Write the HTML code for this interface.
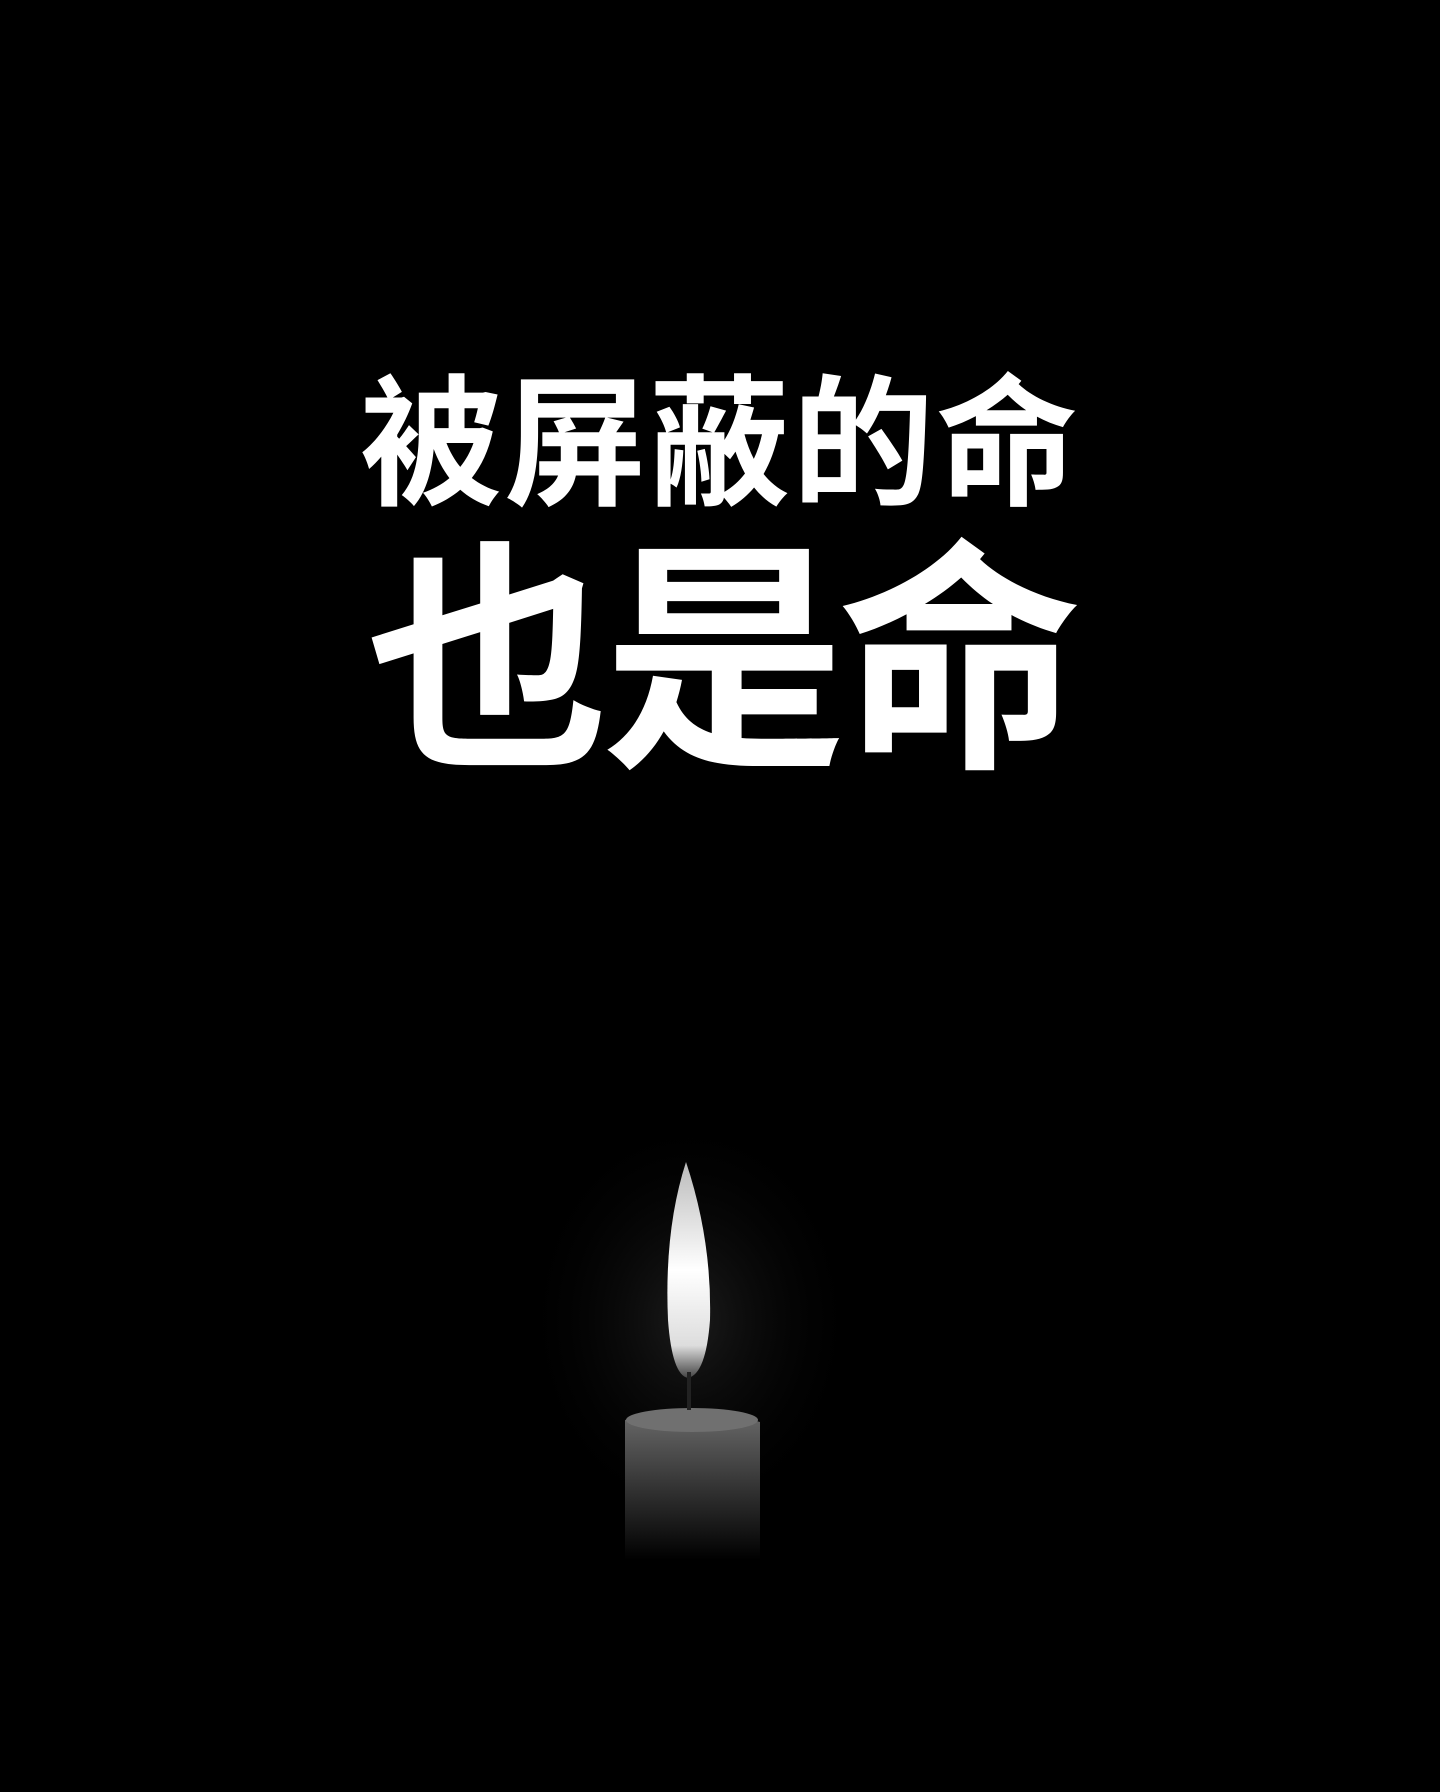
<!DOCTYPE html>
<html><head><meta charset="utf-8">
<style>
html,body{margin:0;padding:0;background:#000;}
#page{position:relative;width:1440px;height:1792px;background:#000;overflow:hidden;font-family:"Liberation Sans","Noto Sans CJK SC",sans-serif;color:#fff;}
.t{position:absolute;left:0;width:1440px;text-align:center;font-weight:700;white-space:nowrap;}
#l1{top:364px;font-size:142px;line-height:164px;letter-spacing:2px;}
#l2{top:536px;font-size:244px;line-height:256px;letter-spacing:-8px;}
svg{position:absolute;left:0;top:0;}
</style></head>
<body>
<div id="page">
<div class="t" id="l1">被屏蔽的命</div>
<div class="t" id="l2">也是命</div>
<svg width="1440" height="1792">
<defs>
<radialGradient id="glow" cx="0.5" cy="0.5" r="0.5">
<stop offset="0" stop-color="#1c1c1c"/><stop offset="1" stop-color="#000" stop-opacity="0"/>
</radialGradient>
<linearGradient id="body" x1="0" y1="0" x2="0" y2="1">
<stop offset="0" stop-color="#6a6a6a"/><stop offset="0.6" stop-color="#2a2a2a"/><stop offset="1" stop-color="#000"/>
</linearGradient>
<linearGradient id="flame" x1="0" y1="0" x2="0" y2="1">
<stop offset="0" stop-color="#bbb"/><stop offset="0.5" stop-color="#fff"/><stop offset="0.85" stop-color="#ddd"/><stop offset="1" stop-color="#444"/>
</linearGradient>
</defs>
<ellipse cx="690" cy="1320" rx="170" ry="210" fill="url(#glow)"/>
<path d="M625 1420 Q690 1402 760 1422 L760 1560 L625 1560 Z" fill="url(#body)"/>
<ellipse cx="692" cy="1420" rx="66" ry="12" fill="#707070"/>
<path d="M686 1162 Q664 1230 668 1320 Q672 1375 688 1378 Q706 1374 710 1320 Q712 1240 686 1162 Z" fill="url(#flame)"/>
<line x1="689" y1="1372" x2="689" y2="1410" stroke="#222" stroke-width="4"/>
</svg>
</div>
</body></html>
